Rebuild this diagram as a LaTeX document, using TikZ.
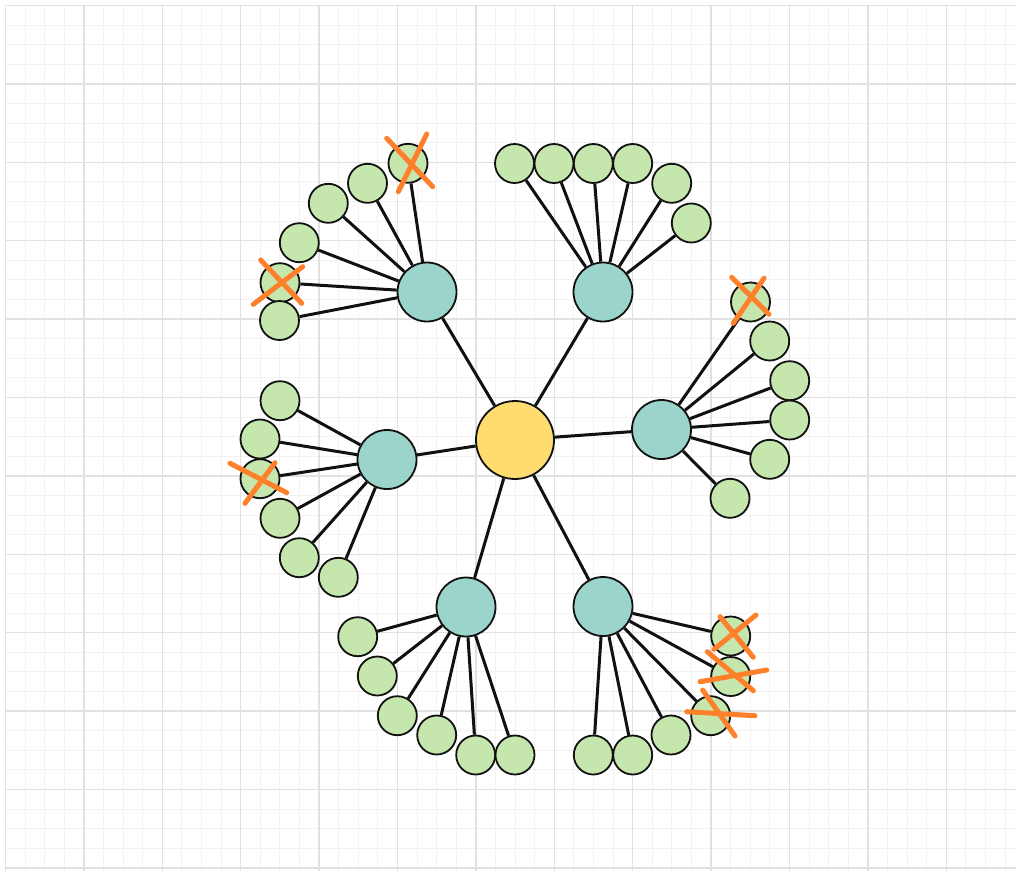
\documentclass[tikz,border=0pt]{standalone}
\definecolor{gridminor}{RGB}{242,242,242}
\definecolor{gridmajor}{RGB}{225,225,225}
\definecolor{leafgreen}{RGB}{197,230,173}
\definecolor{hubteal}{RGB}{154,212,202}
\definecolor{rootyellow}{RGB}{255,220,112}
\definecolor{edgeblack}{RGB}{17,17,17}
\definecolor{crossorange}{RGB}{255,128,42}
\tikzset{
  minorgrid/.style={draw=gridminor, line width=1pt},
  majorgrid/.style={draw=gridmajor, line width=1.3pt},
  leaf/.style={circle, draw=edgeblack, line width=1.8pt, fill=leafgreen, minimum size=39pt, inner sep=0pt},
  hub/.style={circle, draw=edgeblack, line width=1.8pt, fill=hubteal, minimum size=59pt, inner sep=0pt},
  root/.style={circle, draw=edgeblack, line width=1.8pt, fill=rootyellow, minimum size=78pt, inner sep=0pt},
  link/.style={draw=edgeblack, line width=3pt},
  strike/.style={draw=crossorange, line width=5pt, line cap=round}
}
\begin{document}
\begin{tikzpicture}[x=1pt, y=-1pt]
\useasboundingbox (0,0) rectangle (1016,871);
\fill[white] (0,0) rectangle (1016,871);
% grid
\foreach \i in {0,...,51} { \draw[minorgrid] ({5.5+19.6*\i},5.5) -- ({5.5+19.6*\i},871); }
\foreach \i in {0,...,44} { \draw[minorgrid] (5.5,{5.5+19.6*\i}) -- (1016,{5.5+19.6*\i}); }
\foreach \i in {0,...,12} { \draw[majorgrid] ({5.5+78.4*\i},5.5) -- ({5.5+78.4*\i},871); }
\foreach \i in {0,...,11} { \draw[majorgrid] (5.5,{5.5+78.4*\i}) -- (1016,{5.5+78.4*\i}); }

% root and hubs
\node[root] (c) at (515,440) {};
\node[hub] (h1) at (427,292) {};
\node[hub] (h2) at (603,292) {};
\node[hub] (h3) at (661.5,429.5) {};
\node[hub] (h4) at (387,459.5) {};
\node[hub] (h5) at (466,607) {};
\node[hub] (h6) at (603,606.5) {};

% leaves
\foreach \k/\x/\y in {1/408/163.3, 2/367.5/183.3, 3/328.3/203.3, 4/299.3/242.7, 5/280/282.7, 6/279.5/320.5}
  \node[leaf] (a\k) at (\x,\y) {};
\foreach \k/\x/\y in {1/514.5/163.5, 2/554/163.5, 3/593.3/163.5, 4/632.7/163.5, 5/671.7/183.3, 6/691.3/223}
  \node[leaf] (b\k) at (\x,\y) {};
\foreach \k/\x/\y in {1/750.5/302, 2/769.7/341, 3/789.7/380.7, 4/789.7/420, 5/769.7/459.3, 6/730/498.3}
  \node[leaf] (e\k) at (\x,\y) {};
\foreach \k/\x/\y in {1/280/400.7, 2/260/439, 3/260/478.7, 4/280/518.3, 5/299.3/557.7, 6/338.3/577.3}
  \node[leaf] (w\k) at (\x,\y) {};
\foreach \k/\x/\y in {1/357.7/636.7, 2/377.3/676, 3/397.3/715.7, 4/436.7/735, 5/475.7/755, 6/515/755}
  \node[leaf] (s\k) at (\x,\y) {};
\foreach \k/\x/\y in {1/593.3/755, 2/632.7/755, 3/671/735, 4/710.7/715.7, 5/730.7/676.5, 6/730.7/636}
  \node[leaf] (t\k) at (\x,\y) {};

% connectors
\foreach \h in {h1,h2,h3,h4,h5,h6} \draw[link] (c) -- (\h);
\foreach \k in {1,...,6} {
  \draw[link] (h1) -- (a\k);
  \draw[link] (h2) -- (b\k);
  \draw[link] (h3) -- (e\k);
  \draw[link] (h4) -- (w\k);
  \draw[link] (h5) -- (s\k);
  \draw[link] (h6) -- (t\k);
}

% strike marks
\draw[strike] (386.7,138.3) -- (432.7,186.7);
\draw[strike] (426.7,134) -- (398.3,191.7);
\draw[strike] (260.7,260) -- (301.7,303.3);
\draw[strike] (302.7,266.7) -- (253.3,304.3);
\draw[strike] (731.7,277.3) -- (769,314.3);
\draw[strike] (764,278.3) -- (733.3,323.3);
\draw[strike] (230,463.3) -- (286.7,492.7);
\draw[strike] (275,462.7) -- (245,503.3);
\draw[strike] (756,615) -- (714,649.3);
\draw[strike] (720,616.7) -- (753.3,657.3);
\draw[strike] (707.3,651.7) -- (753.3,690.7);
\draw[strike] (700,681.7) -- (766.7,670);
\draw[strike] (702.7,690) -- (735,736);
\draw[strike] (686.7,711.7) -- (755,715.7);
\end{tikzpicture}
\end{document}
